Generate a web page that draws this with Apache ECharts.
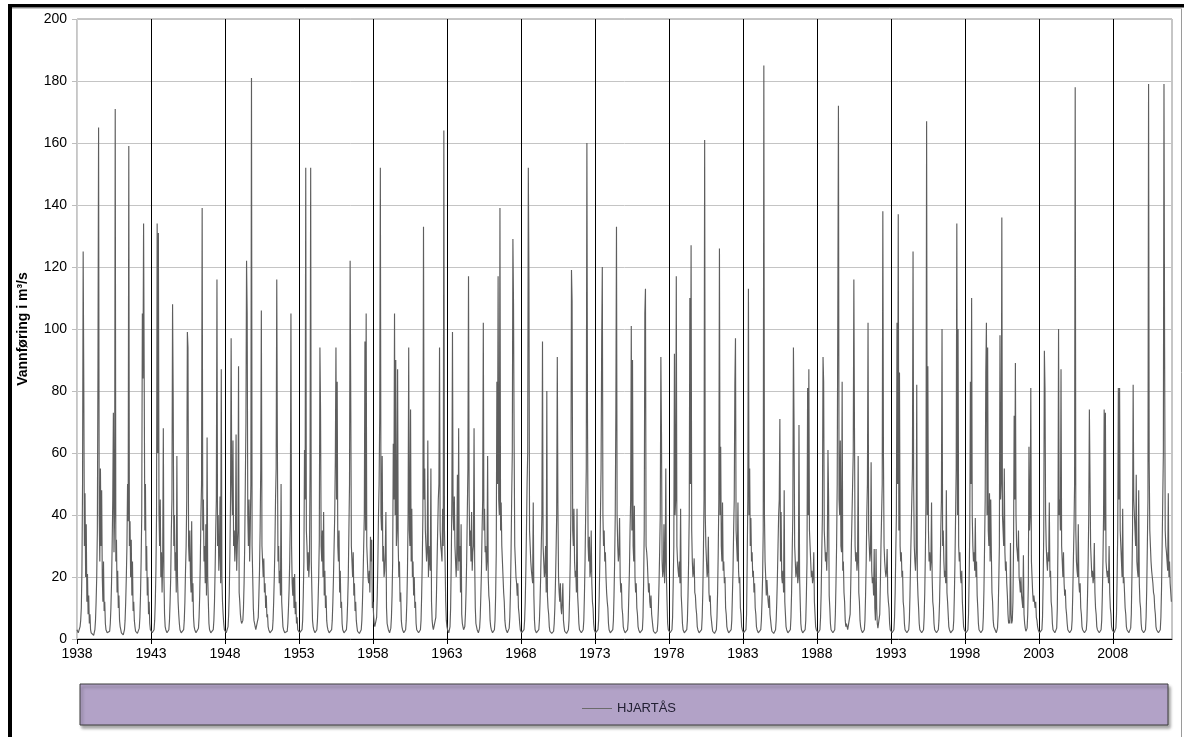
<!DOCTYPE html>
<html>
<head>
<meta charset="utf-8">
<script src="https://cdn.jsdelivr.net/npm/echarts@6/dist/echarts.min.js"></script>
<style>
html,body{margin:0;padding:0;background:#fff;}
#chart{width:1184px;height:737px;}
</style>
</head>
<body>
<div id="chart"></div>
<script>
// Half-monthly flow values (m³/s), 24 per year
const flow1930s = [
  [3,2.5,2,2,2.5,4,6,10, 22,50,125,83, 30,47,20,37, 12,21,8,14, 5,8,3,2],
  [2,1.5,1.5,1.2,1.5,3,6,12, 20,35,88,165, 40,25,55,30, 48,20,12,25, 9,12,5,3]
];
const flow1940s = [
  [2.5,2,1.8,1.5,1.5,2.5,5,10, 18,30,45,73, 28,40,171,25, 32,15,22,10, 14,6,4,3],
  [2,1.8,1.5,1.3,1.5,3,6,12, 20,30,50,38, 159,30,38,20, 32,14,25,9, 12,6,4,2.5],
  [2.5,2,1.8,1.5,2,3.5,7,14, 25,40,105,84, 134,84,35,50, 22,30,14,20, 8,12,5,3],
  [3,2.5,2,1.8,2,3,6,12, 22,40,134,60, 131,40,30,45, 20,28,15,25, 68,20,8,4],
  [3,2.5,2,1.8,2,3,6,12, 20,35,45,108, 78,30,40,22, 28,15,59,20, 12,8,5,3],
  [2.5,2,1.8,1.5,2,3,6,12, 22,30,45,99, 94,30,25,35, 20,15,38,12, 18,7,4,3],
  [2.5,2,1.8,1.5,2,3.5,7,14, 25,40,50,139, 35,45,25,30, 18,37,14,65, 20,12,5,3],
  [2.5,2,1.8,1.5,2,3,6,12, 22,35,45,116, 30,40,22,28, 46,18,87,20, 12,8,5,3],
  [3,2.5,2,2,2.5,4,8,15, 28,45,97,50, 40,64,30,35, 25,30,66,22, 30,35,88,15],
  [12,8,6,5,5,6,10,18, 30,50,70,122, 105,40,30,45, 25,35,50,181, 30,20,10,6]
];
const flow1950s = [
  [5,4,3,2.5,2.5,3.5,7,14, 22,35,55,106, 30,25,20,26, 15,18,10,14, 7,8,4,3],
  [2.5,2,1.8,1.5,2,3,6,12, 20,30,45,55, 116,62,25,30, 18,22,14,50, 12,8,4,3],
  [2.5,2,1.8,1.5,1.8,2.5,5,10, 16,25,40,105, 30,18,14,20, 10,21,8,12, 5,7,3,2.5],
  [2.5,2,1.8,1.5,2,3,6,14, 25,61,45,152, 35,30,22,28, 20,25,55,152, 25,15,6,4],
  [3,2.5,2,1.8,2,3,6,12, 20,32,94,74, 30,25,35,20, 41,14,22,10, 14,6,4,3],
  [2.5,2,1.8,1.5,2,3,6,12, 20,30,40,58, 94,45,83,30, 25,35,15,22, 10,12,5,3],
  [2.5,2,1.8,1.5,2,3,6,12, 20,35,50,122, 78,30,25,20, 28,14,18,9, 12,6,4,2.5],
  [2.5,2,1.8,1.5,2,3,6,12, 20,30,40,96, 35,105,30,25, 20,18,22,15, 33,25,32,10],
  [12,8,5,4,3.5,4,7,14, 25,40,50,73, 152,40,35,59, 25,30,20,22, 28,41,10,5],
  [4,3,2.5,2,2.5,3.5,7,14, 25,63,45,105, 40,90,30,35, 87,30,20,25, 12,15,6,4]
];
const flow1960s = [
  [3,2.5,2,1.8,2,3,6,12, 22,40,94,35, 30,74,25,42, 20,25,14,20, 10,12,5,3],
  [3,2.5,2,1.8,2,3,6,14, 25,40,133,45, 55,35,30,25, 28,64,20,30, 25,22,55,12],
  [6,4,3,2.5,2.5,3.5,7,14, 25,35,45,50, 94,35,30,28, 25,42,30,164, 35,25,12,6],
  [4,3,2.5,2,2.5,4,10,25, 45,99,40,35, 46,30,25,20, 28,53,22,68, 25,30,15,37],
  [8,5,4,3,3,4,8,15, 25,40,55,117, 46,30,35,25, 41,22,28,30, 68,25,10,5],
  [4,3,2.5,2,2.5,3.5,7,14, 22,35,45,102, 35,42,28,30, 22,25,59,20, 14,12,6,4],
  [3,2.5,2,1.8,2,3,6,14, 28,83,50,117, 45,40,139,35, 44,30,25,20, 15,12,6,4],
  [3,2.5,2,1.8,2,3.5,7,15, 28,45,60,129, 108,63,30,25, 20,18,14,18, 10,8,5,3],
  [2.5,2,1.8,1.5,2,3,6,12, 22,35,50,60, 152,116,35,30, 25,22,20,18, 44,14,6,3],
  [2.5,2,1.8,1.5,2,3,6,12, 20,30,40,96, 30,25,20,22, 30,15,80,14, 10,8,4,2.5]
];
const flow1970s = [
  [2.5,2,1.8,1.5,1.8,2.5,5,10, 18,28,40,91, 43,20,15,12, 18,10,8,12, 18,6,4,2.5],
  [2.5,2,1.8,1.5,2,3,6,14, 25,40,119,109, 35,30,42,25, 20,22,15,42, 14,10,5,3],
  [3,2.5,2,1.8,2,3,6,14, 25,40,55,160, 71,30,25,33, 20,22,35,18, 12,10,5,3],
  [2.5,2,1.8,1.5,2,3,6,14, 25,40,55,96, 120,40,30,35, 25,28,20,15, 12,10,5,3],
  [2.5,2,1.8,1.5,2,3,6,14, 25,40,74,133, 40,30,25,28, 39,20,15,18, 10,8,4,3],
  [2.5,2,1.8,1.5,2,3,6,14, 22,35,45,101, 35,90,30,25, 43,20,15,18, 10,8,4,3],
  [2.5,2,1.8,1.5,2,3,7,18, 35,105,113,30, 28,25,20,15, 18,12,10,14, 8,6,4,2.5],
  [2.5,2,1.8,1.5,1.8,2.5,5,10, 18,28,40,91, 66,25,20,22, 37,18,25,55, 20,12,5,3],
  [3,2.5,2,1.8,2,3,7,18, 30,92,40,45, 117,30,25,22, 20,25,18,42, 14,10,5,3],
  [2.5,2,1.8,1.5,2,3,6,14, 25,40,110,50, 127,35,25,20, 22,26,15,14, 10,8,4,3]
];
const flow1980s = [
  [2.5,2,1.8,1.5,2,3,7,15, 28,45,161,40, 30,25,20,22, 33,15,12,14, 8,6,4,2.5],
  [2.5,2,1.8,1.5,2,3,7,15, 28,45,126,40, 62,30,25,44, 22,25,18,20, 10,8,4,3],
  [2.5,2,1.8,1.5,2,3,6,14, 22,35,45,82, 97,35,30,25, 44,22,18,20, 10,8,4,3],
  [2.5,2,1.8,1.5,2,3,8,25, 45,113,40,55, 30,39,25,28, 20,22,15,18, 10,8,4,3],
  [2.5,2,1.8,1.5,2,3,6,12, 20,35,185,40, 25,20,14,19, 15,12,10,14, 8,6,4,2.5],
  [2.5,2,1.8,1.5,2,3,6,12, 20,30,40,45, 71,25,41,20, 18,22,15,48, 12,8,4,3],
  [2.5,2,1.8,1.5,2,3,7,15, 28,40,94,69, 30,25,20,22, 25,18,20,69, 20,12,5,3],
  [2.5,2,1.8,1.5,2,3,6,14, 25,81,40,87, 35,30,25,20, 22,18,20,28, 12,8,4,3],
  [3,2.5,2,1.8,2,3,7,15, 28,40,91,83, 35,30,25,28, 22,30,61,46, 14,10,5,3],
  [3,2.5,2,1.8,2,3,8,18, 30,50,107,172, 45,40,64,30, 28,83,22,25, 15,12,6,4]
];
const flow1990s = [
  [5,4,3,2.5,2.5,3.5,8,18, 30,40,50,60, 116,68,30,25, 28,22,25,59, 15,12,6,4],
  [3,2.5,2,1.8,2,3,6,14, 25,40,50,102, 35,30,25,28, 57,22,18,20, 14,29,10,6],
  [29,10,5,3.5,3,4,8,18, 30,40,50,138, 59,30,25,22, 20,22,29,15, 12,10,5,3],
  [3,2.5,2,1.8,2,3,7,15, 28,40,102,50, 137,35,86,30, 25,28,20,22, 12,10,5,3],
  [3,2.5,2,1.8,2,3,6,14, 25,35,45,55, 125,49,30,25, 22,28,82,20, 14,10,5,3],
  [3,2.5,2,1.8,2,3,7,15, 28,45,167,40, 88,35,25,28, 22,25,44,20, 12,10,5,3],
  [3,2.5,2,1.8,2,3,6,12, 22,35,45,100, 30,35,25,20, 22,18,48,15, 12,8,4,3],
  [2.5,2,1.8,1.5,2,3,6,14, 25,40,55,134, 40,100,30,25, 28,20,18,22, 12,8,4,3],
  [3,2.5,2,1.8,2,3,8,20, 35,83,50,110, 40,30,25,28, 22,39,20,25, 14,10,5,3],
  [3,2.5,2,1.8,2,3,7,16, 30,45,86,102, 40,94,35,30, 47,25,45,28, 15,12,6,4]
];
const flow2000s = [
  [4,3,2.5,2,2.5,3.5,8,18, 30,98,45,50, 136,40,35,30, 55,28,22,25, 18,14,8,5],
  [6,5,31,8,5,6,12,30, 72,45,89,40, 30,28,25,35, 20,18,15,20, 14,12,10,27],
  [8,5,3.5,2.5,2.5,3.5,8,18, 62,35,40,81, 25,20,15,12, 14,14,10,12, 7,6,4,3],
  [2.5,2,1.8,1.5,2,3,7,18, 35,93,81,40, 30,25,22,28, 25,44,20,22, 12,10,5,3],
  [3,2.5,2,1.8,2,3.5,10,30, 100,40,45,35, 87,30,25,20, 28,18,14,16, 10,8,5,3],
  [3,2.5,2,1.8,2,3,6,14, 25,35,50,178, 35,25,22,20, 37,18,15,18, 10,8,4,3],
  [3,2.5,2,1.8,2,3,6,14, 25,40,74,74, 30,25,20,22, 18,20,31,15, 10,8,4,3],
  [3,2.5,2,1.8,2,3,6,14, 25,40,74,35, 73,25,22,20, 22,18,30,15, 10,8,4,3],
  [3,2.5,2,1.8,2,3.5,8,20, 35,81,45,81, 35,30,25,20, 42,18,20,15, 10,8,4,3],
  [3,2.5,2,1.8,2,3.5,8,20, 35,82,45,40, 35,30,53,25, 22,20,48,18, 12,10,5,3]
];
const flow2010s = [
  [3,2.5,2,1.8,2,3,7,16, 30,45,179,57, 35,30,25,22, 20,18,15,14, 10,8,4,3],
  [3,2.5,2,1.8,2,3,7,16, 30,45,60,179, 94,35,30,28, 25,22,47,20, 25,18,15,12]
];
const blocks = [[1938, flow1930s],[1940, flow1940s],[1950, flow1950s],[1960, flow1960s],
                [1970, flow1970s],[1980, flow1980s],[1990, flow1990s],[2000, flow2000s],[2010, flow2010s]];
const xTickYears = [1938,1943,1948,1953,1958,1963,1968,1973,1978,1983,1988,1993,1998,2003,2008];
const seriesName = 'HJARTÅS';
const yName = 'Vannføring i m³/s';

const data = [];
blocks.forEach(([start, rows]) => {
  rows.forEach((row, i) => {
    row.forEach((v, k) => data.push([start + i + k / row.length, v]));
  });
});

const chart = echarts.init(document.getElementById('chart'), null, {renderer: 'canvas'});
const font = 'Liberation Sans, Arial, sans-serif';
chart.setOption({
  animation: false,
  backgroundColor: '#fff',
  textStyle: {fontFamily: font},
  grid: {left: 77, right: 12, top: 19, bottom: 98, show: true, borderColor: '#8c8c8c', borderWidth: 1, backgroundColor: 'transparent'},
  xAxis: {
    type: 'value', min: 1938, max: 2012, interval: 5,
    axisLine: {show: true, onZero: false, lineStyle: {color: '#000', width: 1}},
    axisTick: {show: true, length: 5, lineStyle: {color: '#000'}, customValues: xTickYears},
    axisLabel: {show: true, color: '#000', fontSize: 14, fontFamily: font, margin: 8, customValues: xTickYears,
      formatter: v => String(Math.round(v))},
    splitLine: {show: true, showMinLine: false, showMaxLine: true, lineStyle: {color: '#000', width: 1}}
  },
  yAxis: {
    type: 'value', min: 0, max: 200, interval: 20,
    name: yName, nameLocation: 'middle', nameGap: 47,
    nameTextStyle: {fontSize: 14, fontWeight: 'bold', color: '#000', fontFamily: font},
    axisLine: {show: true, lineStyle: {color: '#cfcfcf'}},
    axisTick: {show: true, length: 5, lineStyle: {color: '#bdbdbd'}},
    axisLabel: {color: '#000', fontSize: 14, fontFamily: font, margin: 10},
    splitLine: {show: true, lineStyle: {color: '#c4c4c4', width: 1}}
  },
  legend: {
    show: true, left: 577, top: 697, z: 10,
    data: [{name: seriesName, icon: 'rect'}],
    itemWidth: 30, itemHeight: 1, itemGap: 10,
    textStyle: {color: '#222033', fontSize: 13, fontFamily: font}
  },
  graphic: [
    {type: 'rect', z: 1, shape: {x: 80, y: 684, width: 1088, height: 41},
     style: {fill: '#b2a2c7', stroke: '#3c3c3c', lineWidth: 1, shadowBlur: 3, shadowOffsetX: 2, shadowOffsetY: 3, shadowColor: 'rgba(0,0,0,0.35)'}},
    {type: 'rect', z: 1, shape: {x: 8, y: 4, width: 1176, height: 3.5}, style: {fill: '#000'}},
    {type: 'rect', z: 1, shape: {x: 8, y: 4, width: 4, height: 733}, style: {fill: '#000'}},
    {type: 'line', z: 1, shape: {x1: 1181.5, y1: 8, x2: 1181.5, y2: 737}, style: {stroke: '#9a9a9a', lineWidth: 1}},
    {type: 'line', z: 1, shape: {x1: 12, y1: 8.5, x2: 1182, y2: 8.5}, style: {stroke: '#c8c8c8', lineWidth: 1}}
  ],
  series: [{
    name: seriesName, type: 'line', data: data,
    showSymbol: false, symbol: 'none',
    lineStyle: {color: '#5e5e5e', width: 1.15},
    itemStyle: {color: '#6b6b6b'},
    emphasis: {disabled: true}
  }]
});
</script>
</body>
</html>
